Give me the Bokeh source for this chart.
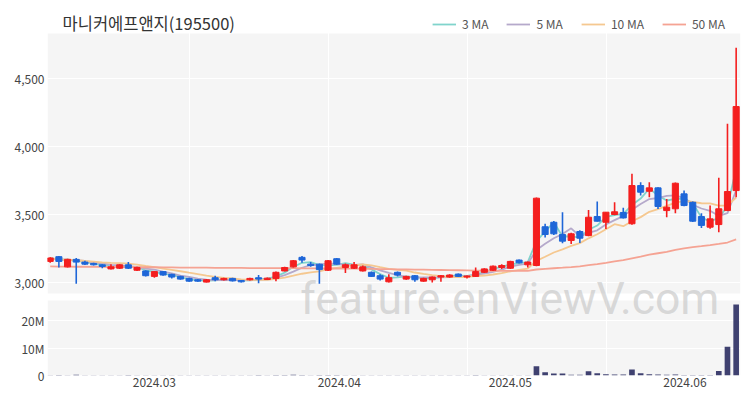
from bokeh.plotting import figure
from bokeh.models import (ColumnDataSource, Range1d, FixedTicker, Label, Legend,
                          LegendItem, BoxAnnotation)
from bokeh.embed import file_html
from bokeh.resources import INLINE
import pandas as pd

title_text = "마니커에프앤지(195500)"

opens = [3155, 3190, 3115, 3170, 3150, 3140, 3130, 3100, 3105, 3130,
         3090, 3085, 3045, 3080, 3060, 3045, 3030, 3020, 3003, 3035,
         3020, 3030, 3015, 3020, 3035, 3022, 3030, 3085, 3115, 3185,
         3135, 3135, 3090, 3175, 3110, 3105, 3085, 3075, 3050, 3005,
         3075, 3025, 3050, 3010, 3020, 3040, 3040, 3062, 3040, 3045,
         3075, 3090, 3110, 3105, 3165, 3130, 3125, 3410, 3443, 3353,
         3309, 3375, 3345, 3485, 3443, 3500, 3515, 3432, 3713, 3671,
         3696, 3529, 3542, 3652, 3590, 3485, 3407, 3426, 3529, 3676]
highs = [3185, 3195, 3175, 3180, 3160, 3145, 3135, 3135, 3135, 3150,
         3115, 3090, 3085, 3085, 3065, 3050, 3035, 3025, 3025, 3050,
         3035, 3035, 3018, 3035, 3055, 3036, 3080, 3115, 3165, 3195,
         3150, 3140, 3165, 3180, 3140, 3150, 3125, 3080, 3060, 3060,
         3080, 3050, 3055, 3035, 3045, 3055, 3060, 3066, 3052, 3110,
         3105, 3125, 3135, 3160, 3170, 3155, 3625, 3432, 3452, 3517,
         3365, 3385, 3534, 3596, 3517, 3590, 3550, 3800, 3738, 3738,
         3700, 3615, 3735, 3676, 3595, 3510, 3566, 3770, 4167, 4726]
lows = [3145, 3110, 3110, 2990, 3128, 3125, 3105, 3095, 3100, 3100,
        3085, 3045, 3035, 3050, 3030, 3020, 3005, 3005, 3000, 3010,
        3015, 3008, 3000, 3015, 2995, 3018, 3010, 3080, 3110, 3145,
        3115, 2990, 3085, 3130, 3070, 3100, 3080, 3040, 3015, 3000,
        3045, 3020, 3005, 3005, 3000, 3005, 3035, 3040, 3030, 3040,
        3070, 3085, 3100, 3100, 3140, 3110, 3120, 3331, 3350, 3289,
        3284, 3290, 3340, 3448, 3394, 3495, 3470, 3425, 3640, 3627,
        3540, 3480, 3510, 3560, 3445, 3400, 3395, 3370, 3525, 3627]
closes = [3180, 3155, 3170, 3150, 3135, 3130, 3118, 3115, 3130, 3105,
          3110, 3050, 3080, 3055, 3040, 3025, 3010, 3010, 3020, 3020,
          3030, 3012, 3005, 3030, 3025, 3032, 3075, 3110, 3160, 3165,
          3125, 3095, 3160, 3135, 3130, 3130, 3115, 3045, 3025, 3035,
          3055, 3045, 3020, 3030, 3040, 3050, 3055, 3045, 3048, 3080,
          3100, 3120, 3125, 3155, 3145, 3150, 3620, 3353, 3358, 3304,
          3358, 3326, 3480, 3451, 3517, 3520, 3475, 3713, 3664, 3696,
          3559, 3554, 3730, 3566, 3451, 3420, 3468, 3542, 3669, 4294]
volumes = [120000, 150000, 130000, 260000, 80000, 60000, 70000, 60000, 70000, 180000,
           60000, 110000, 90000, 70000, 80000, 90000, 70000, 60000, 60000, 80000,
           50000, 60000, 60000, 50000, 150000, 60000, 200000, 220000, 250000, 200000,
           90000, 180000, 200000, 150000, 90000, 80000, 80000, 110000, 90000, 100000,
           80000, 60000, 80000, 60000, 70000, 70000, 60000, 70000, 50000, 150000,
           120000, 110000, 90000, 130000, 80000, 90000, 3400000, 1200000, 700000, 700000,
           250000, 300000, 1550000, 800000, 450000, 400000, 350000, 2200000, 800000, 450000,
           400000, 300000, 400000, 200000, 200000, 150000, 200000, 1600000, 10500000, 25800000]
# 50-day moving average for the first 50 sessions
ma50_head = [3118, 3117, 3117, 3116, 3116, 3115, 3115, 3114, 3114, 3113,
             3113, 3112, 3112, 3111, 3111, 3110, 3110, 3109, 3109, 3108,
             3108, 3107, 3107, 3106, 3106, 3106, 3105, 3105, 3105, 3104,
             3104, 3104, 3103, 3103, 3102, 3102, 3101, 3100, 3099, 3098,
             3097, 3096, 3095, 3094, 3093, 3092, 3091, 3090, 3089, 3088]
month_ticks = [12, 33.3, 53, 73.1]
month_labels = ["2024.03", "2024.04", "2024.05", "2024.06"]
grid_ticks = [16.1, 32.1, 48.1, 64.1]
price_ticks = [3000, 3500, 4000, 4500]
vol_ticks = [0, 10000000, 20000000]
vol_labels = ["0", "10M", "20M"]
ma_labels = ["3 MA", "5 MA", "10 MA", "50 MA"]

# panel geometry (value ranges of the two stacked panels)
PRICE_RANGE = (2316.0, 5074.0)       # whole frame in price units
PRICE_PANEL = (2919.0, 4831.0)       # shaded price panel
VOL_RANGE = (0.0, 136500000.0)       # whole frame in volume units
VOL_PANEL_TOP = 27300000.0           # shaded volume panel top

RED = "#f41e1e"
BLUE = "#1e66d8"
VOLC = "#3f4170"
MA_COLORS = ["#80d4cc", "#b5a9cb", "#f5c890", "#f5a393"]
FONT = "Noto Sans CJK KR"
BG = "#f5f5f5"

N = len(closes)
xs = list(range(N))
cs = pd.Series(closes, dtype=float)
ma3 = cs.rolling(3, min_periods=1).mean().tolist()
ma5 = cs.rolling(5, min_periods=1).mean().tolist()
ma10 = cs.rolling(10, min_periods=1).mean().tolist()
ma50 = list(ma50_head)
for t in range(len(ma50_head), N):
    ma50.append(ma50[-1] + (closes[t] - closes[t - 50]) / 50)

src = ColumnDataSource(dict(
    x=xs, o=opens, h=highs, l=lows, c=closes,
    top=[max(o, c) for o, c in zip(opens, closes)],
    bottom=[min(o, c) for o, c in zip(opens, closes)],
    color=[RED if c >= o else BLUE for o, c in zip(opens, closes)],
    vol=volumes, ma3=ma3, ma5=ma5, ma10=ma10, ma50=ma50,
))


def vol_to_price(v):
    f = (v - VOL_RANGE[0]) / (VOL_RANGE[1] - VOL_RANGE[0])
    return PRICE_RANGE[0] + f * (PRICE_RANGE[1] - PRICE_RANGE[0])


p = figure(width=742, height=393, title=None,
           x_range=Range1d(-0.31, 79.5), y_range=Range1d(*PRICE_RANGE),
           output_backend="svg", toolbar_location=None,
           min_border_left=47, min_border_right=2, min_border_top=0, min_border_bottom=18,
           background_fill_color="white", border_fill_color="white")
p.extra_y_ranges = {"vol": Range1d(*VOL_RANGE)}
p.outline_line_color = None

p.add_layout(BoxAnnotation(bottom=PRICE_PANEL[0], top=PRICE_PANEL[1], fill_color=BG,
                           fill_alpha=1, line_alpha=0, level="image"))
p.add_layout(BoxAnnotation(bottom=0, top=VOL_PANEL_TOP, y_range_name="vol", fill_color=BG,
                           fill_alpha=1, line_alpha=0, level="image"))

vol_tick_pos = [vol_to_price(v) for v in vol_ticks]
p.ygrid.ticker = FixedTicker(ticks=price_ticks + vol_tick_pos[1:])
p.ygrid.grid_line_color = "white"
p.xgrid.ticker = FixedTicker(ticks=grid_ticks)
p.xgrid.grid_line_color = "white"

yt = vol_tick_pos + price_ticks
yl = vol_labels + [f"{t:,}" for t in price_ticks]
p.yaxis.ticker = FixedTicker(ticks=yt)
p.yaxis.major_label_overrides = {t: s for t, s in zip(yt, yl)}
p.xaxis.ticker = FixedTicker(ticks=month_ticks)
p.xaxis.major_label_overrides = {t: s for t, s in zip(month_ticks, month_labels)}
for ax in p.axis:
    ax.axis_line_color = None
    ax.major_tick_line_color = None
    ax.minor_tick_line_color = None
    ax.major_tick_out = 0
    ax.major_tick_in = 0
    ax.major_label_text_font = FONT
    ax.major_label_text_font_size = "12px"
    ax.major_label_text_color = "#444444"
p.yaxis.major_label_standoff = 3
p.xaxis.major_label_standoff = 2

# volume bars
p.vbar(x="x", width=0.65, top="vol", bottom=0, source=src, y_range_name="vol",
       fill_color=VOLC, line_color=None)

# moving averages
rs = []
for key, col in zip(["ma3", "ma5", "ma10", "ma50"], MA_COLORS):
    rs.append(p.line("x", key, source=src, line_color=col, line_width=1.8))

# candles
p.segment(x0="x", y0="l", x1="x", y1="h", source=src, line_color="color", line_width=1.6)
p.vbar(x="x", width=0.7, top="top", bottom="bottom", source=src,
       fill_color="color", line_color="color", line_width=1)

legend = Legend(items=[LegendItem(label=lab, renderers=[r]) for lab, r in zip(ma_labels, rs)],
                orientation="horizontal", location="top_right", padding=0, margin=15,
                spacing=18, glyph_width=24, glyph_height=16, label_height=16,
                label_standoff=6, label_text_font_size="12px", label_text_color="#555555",
                label_text_font=FONT, background_fill_alpha=0, border_line_color=None)
p.add_layout(legend)

p.add_layout(Label(x=1.42, y=4908, text=title_text, text_font=FONT, text_font_size="16.5px",
                   text_color="#333333", text_baseline="middle"))

p.add_layout(Label(x=28.8, y=2882, text="feature.enViewV.com", text_font="Roboto",
                   text_font_size="44.5px", text_color="#bdbdbd", text_alpha=0.55,
                   text_baseline="alphabetic"))

open("out.html", "w").write(file_html(p, INLINE))
